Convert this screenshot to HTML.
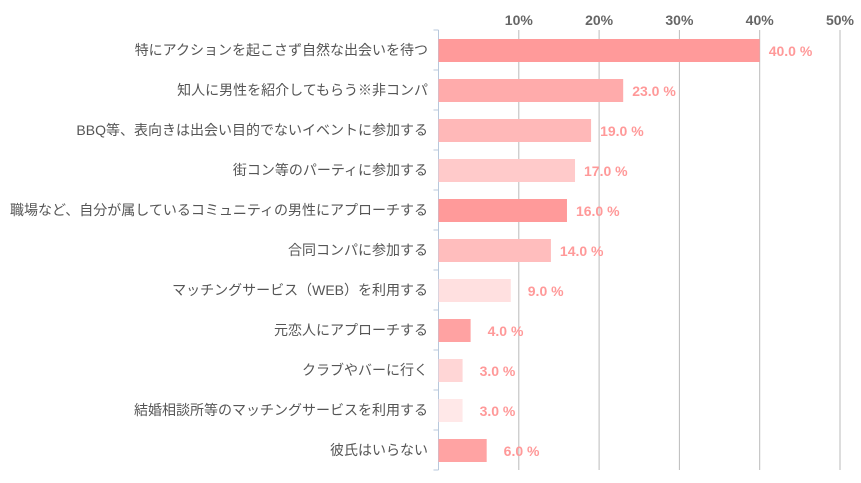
<!DOCTYPE html>
<html><head><meta charset="utf-8"><style>
body{margin:0;background:#fff;}
svg{display:block;font-family:"Liberation Sans","Noto Sans CJK JP",sans-serif;}
</style></head><body>
<svg id="c" width="861" height="483"></svg>
<script>
const categories=["特にアクションを起こさず自然な出会いを待つ","知人に男性を紹介してもらう※非コンパ","BBQ等、表向きは出会い目的でないイベントに参加する","街コン等のパーティに参加する","職場など、自分が属しているコミュニティの男性にアプローチする","合同コンパに参加する","マッチングサービス（WEB）を利用する","元恋人にアプローチする","クラブやバーに行く","結婚相談所等のマッチングサービスを利用する","彼氏はいらない"];
const values=[40,23,19,17,16,14,9,4,3,3,6];
const tickValues=[10,20,30,40,50];
const colors=["#ff9a9a","#ffabab","#ffb8b8","#ffcaca","#ff9a9a","#ffbdbd","#ffe0e0","#ffa2a2","#ffd6d6","#ffe8e8","#ffa3a3"];
const svg=document.getElementById('c');const NS="http://www.w3.org/2000/svg";
const x0=438.5,pxPer=8.03,top0=30,rowH=40;
const xs=v=>x0+v*pxPer;
function mk(t,a,p){const e=document.createElementNS(NS,t);for(const k in a)e.setAttribute(k,a[k]);(p||svg).appendChild(e);return e;}
tickValues.forEach(t=>{
 const l=mk('line',{x1:xs(t),x2:xs(t),y1:top0,y2:top0+rowH*categories.length,stroke:'#bbb','stroke-width':1});
 
 
 const tx=mk('text',{x:xs(t),y:25,'text-anchor':'middle','font-size':14,'font-weight':'bold',fill:'#666'});
 tx.textContent=t+'%';
 
 
});
const ax=mk('line',{x1:x0,x2:x0,y1:top0,y2:top0+rowH*categories.length,stroke:'#b8c8dc','stroke-width':1});


for(let i=0;i<=categories.length;i++){
 const tk=mk('line',{x1:x0-5,x2:x0,y1:top0+rowH*i,y2:top0+rowH*i,stroke:'#b8c8dc'});
 
 
}
categories.forEach((c,i)=>{
 const y=top0+rowH*i;
 const r=mk('rect',{x:x0,y:y+9,width:values[i]*pxPer,height:23,fill:colors[i]});
 
 
 const lb=mk('text',{x:428,y:y+25,'text-anchor':'end','font-size':14,fill:'#555'});
 lb.textContent=c;
 
 
 const vl=mk('text',{x:xs(values[i])+9+(values[i]<10?8:0),y:y+26,'font-size':14,'font-weight':'bold',fill:'#ff9999'});
 vl.textContent=values[i].toFixed(1)+' %';
 
 
});
</script>
</body></html>
